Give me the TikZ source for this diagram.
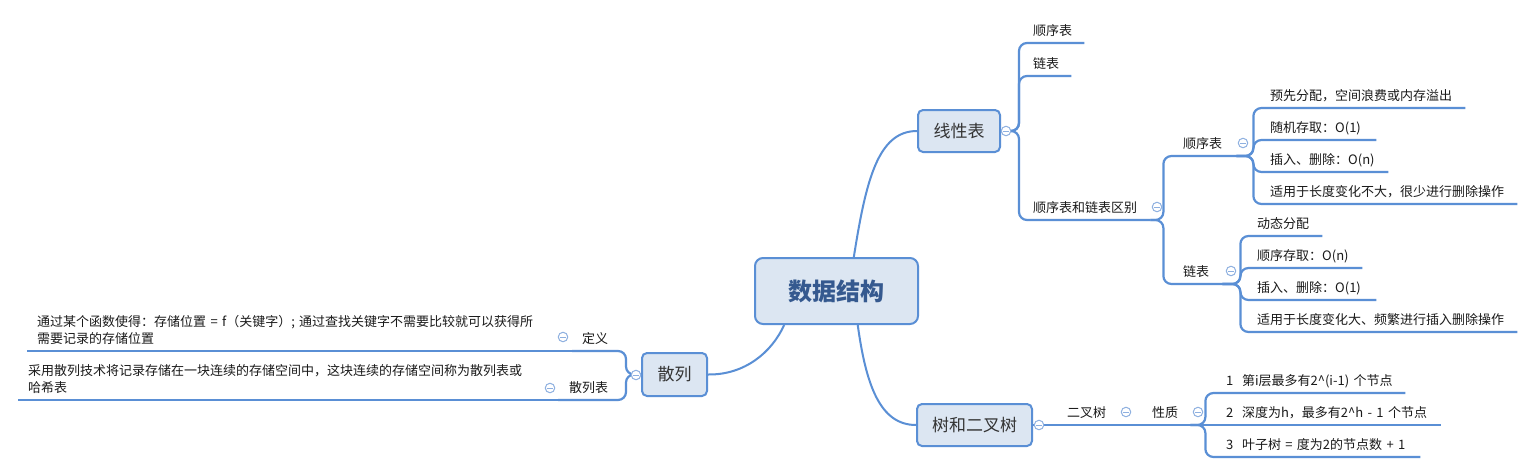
\documentclass[tikz,border=0pt]{standalone}
\usepackage{fontspec}
\setmainfont{Noto Sans CJK SC}
\usetikzlibrary{calc}
\definecolor{lineblue}{HTML}{5A8FD5}
\definecolor{boxfill}{HTML}{DCE6F2}
\definecolor{circblue}{HTML}{8EB0E0}
\definecolor{roottext}{HTML}{35598F}
\definecolor{boxtext}{HTML}{333333}
\definecolor{leaftext}{HTML}{1A1A1A}
\newcommand\fsleaf{\fontsize{13}{17}\selectfont}
\newcommand\fsbox{\fontsize{17}{20}\selectfont}
\newcommand\fsroot{\fontsize{24}{28}\selectfont\bfseries}
\begin{document}
\begin{tikzpicture}[x=1pt,y=-1pt,
  topic/.style={draw=lineblue, fill=boxfill, line width=2pt, rounded corners=5pt, inner sep=0pt, font=\fsbox, text=boxtext},
  roottopic/.style={topic, rounded corners=8pt, font=\fsroot, text=roottext},
  leaf/.style={font=\fsleaf, text=leaftext, anchor=south west, inner xsep=0pt, inner ysep=7.5pt, text depth=0pt, align=left},
  leafml/.style={font=\fsleaf, text=leaftext, anchor=south west, inner xsep=0pt, inner ysep=6pt, align=left},
  branch/.style={draw=lineblue, line width=2.2pt, rounded corners=8pt},
  curve/.style={draw=lineblue, line width=2pt},
  fold/.style={circle, draw=circblue, fill=white, line width=1pt, minimum size=9.5pt, inner sep=0pt,
    path picture={\draw[circblue, line width=1pt] ([xshift=-2.6pt]path picture bounding box.center) -- ([xshift=2.6pt]path picture bounding box.center);}}
]
\useasboundingbox (0,0) rectangle (1534,474);
\fill[white] (0,0) rectangle (1534,474);

% topics
\node[roottopic, minimum width=163pt, minimum height=66pt] (root) at (836.5,291) {数据结构};
\node[topic, minimum width=82pt, minimum height=42pt] (lin) at (959,131) {线性表};
\node[topic, minimum width=115pt, minimum height=42pt] (tree) at (974.5,425) {树和二叉树};
\node[topic, minimum width=65pt, minimum height=43pt] (hash) at (674.5,374.5) {散列};

% leaves
\node[leaf, text width=62pt] (a1) at (1022,43) {\hspace*{11pt}\mbox{顺序表}};
\node[leaf, text width=49pt] (a2) at (1022,76) {\hspace*{11pt}\mbox{链表}};
\node[leaf, text width=128pt] (a3) at (1022,220) {\hspace*{11pt}\mbox{顺序表和链表区别}};
\node[leaf, text width=64pt] (b1) at (1172,156) {\hspace*{11pt}\mbox{顺序表}};
\node[leaf, text width=50pt] (b2) at (1172,284) {\hspace*{11pt}\mbox{链表}};
\node[leaf, text width=205pt] (c1) at (1260,108) {\hspace*{10pt}\mbox{预先分配，空间浪费或内存溢出}};
\node[leaf, text width=116pt] (c2) at (1260,140) {\hspace*{10pt}\mbox{随机存取：O(1)}};
\node[leaf, text width=128pt] (c3) at (1260,172) {\hspace*{10pt}\mbox{插入、删除：O(n)}};
\node[leaf, text width=257pt] (c4) at (1260,204) {\hspace*{10pt}\mbox{适用于长度变化不大，很少进行删除操作}};
\node[leaf, text width=77pt] (d1) at (1245,236) {\hspace*{12pt}\mbox{动态分配}};
\node[leaf, text width=117pt] (d2) at (1245,268) {\hspace*{12pt}\mbox{顺序存取：O(n)}};
\node[leaf, text width=131pt] (d3) at (1245,300) {\hspace*{12pt}\mbox{插入、删除：O(1)}};
\node[leaf, text width=272pt] (d4) at (1245,332) {\hspace*{12pt}\mbox{适用于长度变化大、频繁进行插入删除操作}};
\node[leaf, text width=62pt] (e1) at (1056,425) {\hspace*{11pt}\mbox{二叉树}};
\node[leaf, text width=48pt] (e2) at (1142,425) {\hspace*{10pt}\mbox{性质}};
\node[leaf, text width=190pt] (f1) at (1215,393) {\hspace*{11pt}\mbox{1\ \ 第i层最多有2\textasciicircum(i-1) 个节点}};
\node[leaf, text width=226pt] (f2) at (1215,425) {\hspace*{11pt}\mbox{2\ \ 深度为h，最多有2\textasciicircum h - 1 个节点}};
\node[leaf, text width=205pt] (f3) at (1215,457) {\hspace*{11pt}\mbox{3\ \ 叶子树 = 度为2的节点数 + 1}};
\node[leaf, text width=45pt] (g1) at (572,351) {\hspace*{10pt}\mbox{定义}};
\node[leaf, text width=60pt] (g2) at (558,400) {\hspace*{11pt}\mbox{散列表}};
\node[leafml, text width=545pt] (h1) at (27,351) {\hspace*{10pt}\mbox{通过某个函数使得：存储位置 = f（关键字）; 通过查找关键字不需要比较就可以获得所}\\\hspace*{10pt}\mbox{需要记录的存储位置}};
\node[leafml, text width=540pt] (h2) at (18,400) {\hspace*{10pt}\mbox{采用散列技术将记录存储在一块连续的存储空间中，这块连续的存储空间称为散列表或}\\\hspace*{10pt}\mbox{哈希表}};

% main curves
\draw[curve] (root.63) .. controls (866,180) and (878,131) .. (lin.west);
\draw[curve] (root.-58) .. controls (866,385) and (880,425) .. (tree.west);
\draw[curve] (root.-147) .. controls (772,352) and (745,375) .. (hash.east);

% branches
\foreach \c in {a1,a2,a3} \draw[branch] (lin.east) -- ++(18,0) |- (\c.south east);
\foreach \c in {b1,b2} \draw[branch] (a3.south east) -- ++(13,0) |- (\c.south east);
\foreach \c in {c1,c2,c3,c4} \draw[branch] (b1.south east) -- ++(17,0) |- (\c.south east);
\foreach \c in {d1,d2,d3,d4} \draw[branch] (b2.south east) -- ++(18,0) |- (\c.south east);
\draw[branch] (tree.east) -- (e1.south east);
\draw[branch] (e1.south east) -- (e2.south east);
\foreach \c in {f1,f3} \draw[branch] (e2.south east) -- ++(15,0) |- (\c.south east);
\draw[branch] (e2.south east) -- (f2.south east);
\foreach \c in {g1,g2} \draw[branch] (hash.west) -- ++(-15,0) |- (\c.south west);
\draw[branch] (g1.south west) -- (h1.south west);
\draw[branch] (g2.south west) -- (h2.south west);

% fold markers
\node[fold] (lc) at (1006,131) {};
\node[fold] (hc) at (636,375) {};
\node[fold] (tc) at (1039,425) {};
\node[fold] (a3c) at (1157,207) {};
\node[fold] (b1c) at (1243,143) {};
\node[fold] (b2c) at (1231,271) {};
\node[fold] (e1c) at (1126,412) {};
\node[fold] (e2c) at (1198,412) {};
\node[fold] (g1c) at (563,337) {};
\node[fold] (g2c) at (550,388) {};
\end{tikzpicture}
\end{document}
